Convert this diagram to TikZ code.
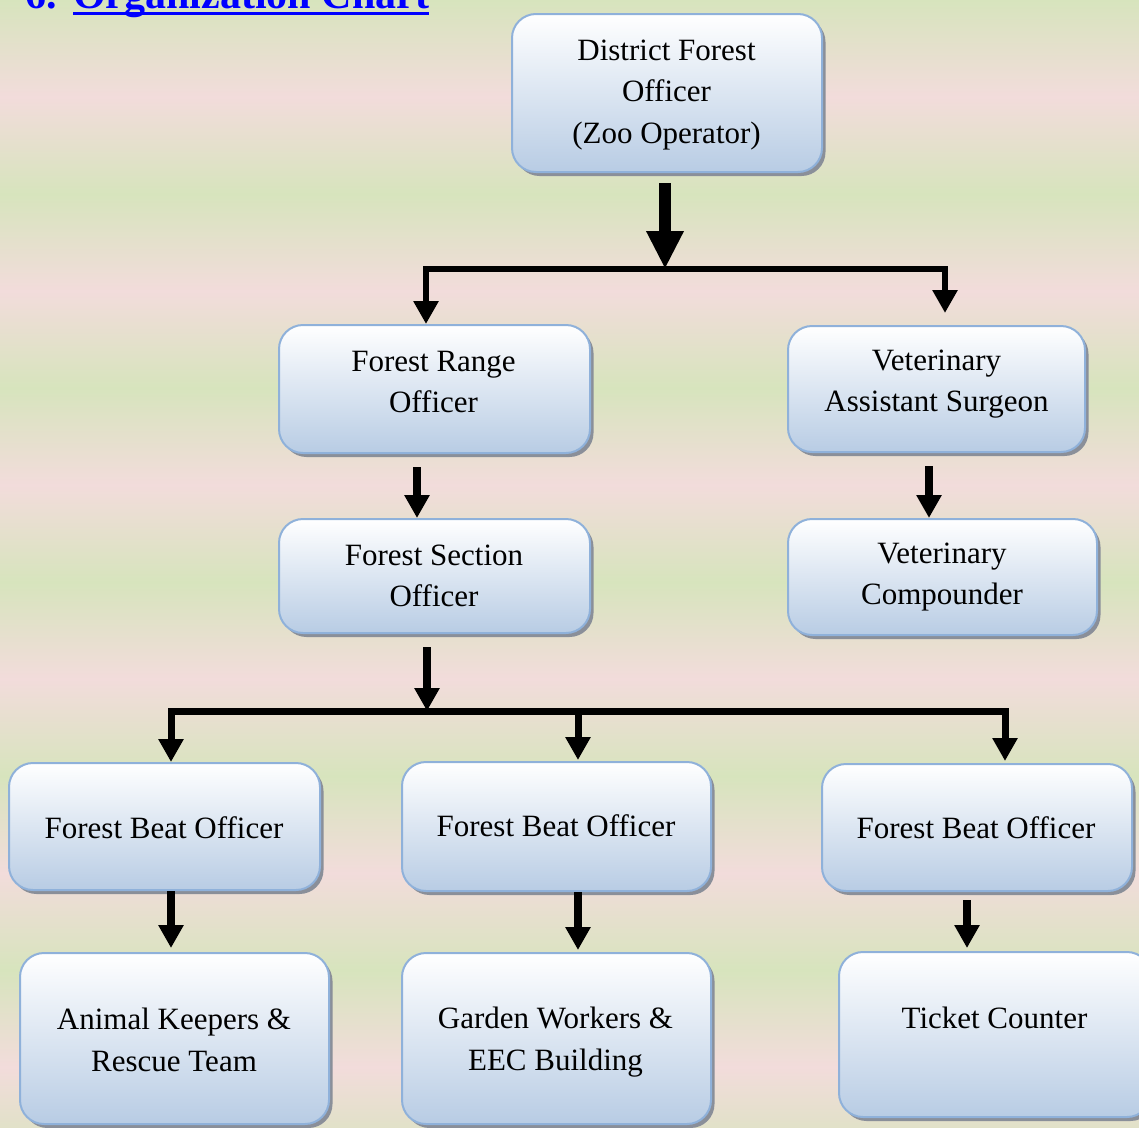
\documentclass[tikz,border=0pt]{standalone}
\usepackage{fontspec}
\setmainfont{Liberation Serif}
\newfontfamily\titlefont{Liberation Serif}
\usetikzlibrary{arrows.meta,shadows}
\definecolor{bggreen}{HTML}{D7E4BD}
\definecolor{bgpink}{HTML}{F2DCDB}
\definecolor{boxline}{HTML}{8FB1DA}
\definecolor{boxbot}{HTML}{B8CCE4}
\definecolor{shadowc}{HTML}{8A8F99}
\definecolor{titleblue}{HTML}{0000FF}
\begin{document}
\begin{tikzpicture}[x=1pt,y=-1pt,
  box/.style={draw=boxline, line width=2pt, rounded corners=24pt,
    top color=white, bottom color=boxbot,
    drop shadow={shadow xshift=3.5pt, shadow yshift=-4pt, fill=shadowc, opacity=1},
    inner sep=0pt},
  txt/.style={font=\fontsize{31}{41.5}\selectfont, align=center, inner sep=0pt, text=black},
  conn/.style={line width=8pt, -{Triangle[width=24pt,length=23pt]}},
  bigconn/.style={line width=12pt, -{Triangle[width=35pt,length=38pt]}},
  busline/.style={line width=6pt, line join=miter, {Triangle[width=24pt,length=23pt]}-{Triangle[width=24pt,length=23pt]}},
  ttl/.style={font=\titlefont\fontsize{42}{46}\selectfont\bfseries, text=titleblue, inner sep=0pt}
]
\useasboundingbox (0,0) rectangle (1139,1127);
\clip (0,0) rectangle (1139,1127);
% background stripes
\foreach \k in {0,...,5}{
  \shade[top color=bggreen, bottom color=bgpink] (0,{194*\k}) rectangle (1139,{194*\k+97});
  \shade[top color=bgpink, bottom color=bggreen] (0,{194*\k+97}) rectangle (1139,{194*\k+194});
}
% title
\node[ttl, anchor=base west] (num) at (25,9) {6.};
\node[ttl, anchor=base west] (title) at (73,9) {Organization Chart};
\draw[titleblue, line width=3pt] ([yshift=-4.5pt]title.base west) -- ([yshift=-4.5pt]title.base east);

% boxes
\node[box, minimum width=310pt, minimum height=158pt] (dfo) at (667,93) {};
\node[box, minimum width=311pt, minimum height=128pt] (fro) at (434.5,389) {};
\node[box, minimum width=297pt, minimum height=126pt] (vas) at (936.5,389) {};
\node[box, minimum width=311pt, minimum height=114pt] (fso) at (434.5,576) {};
\node[box, minimum width=309pt, minimum height=116pt] (vc) at (942.5,577) {};
\node[box, minimum width=311pt, minimum height=127pt] (fbo1) at (164.5,826.5) {};
\node[box, minimum width=309pt, minimum height=129pt] (fbo2) at (556.5,826.5) {};
\node[box, minimum width=310pt, minimum height=127pt] (fbo3) at (977,827.5) {};
\node[box, minimum width=309pt, minimum height=171pt] (ak) at (174.5,1038.5) {};
\node[box, minimum width=309pt, minimum height=171pt] (gw) at (556.5,1038.5) {};
\node[box, minimum width=312pt, minimum height=165pt] (tc) at (995,1034.5) {};

% texts
\node[txt] (dfot) at (666.5,95) {District Forest\\Officer\\(Zoo Operator)};
\node[txt] (frot) at (433.5,382) {Forest Range\\Officer};
\node[txt] (vast) at (936.5,384) {Veterinary\\Assistant Surgeon};
\node[txt] (fsot) at (434,576) {Forest Section\\Officer};
\node[txt] (vct) at (942,577) {Veterinary\\Compounder};
\node[txt] (fbo1t) at (164,828) {Forest Beat Officer};
\node[txt] (fbo2t) at (556,826) {Forest Beat Officer};
\node[txt] (fbo3t) at (976,828) {Forest Beat Officer};
\node[txt] (akt) at (174,1040) {Animal Keepers \&\\Rescue Team};
\node[txt] (gwt) at (555.5,1042) {Garden Workers \&\\EEC Building};
\node[txt] (tct) at (994.5,1018) {Ticket Counter};

% junction coordinates
\coordinate (j1) at (665,269);
\coordinate (b1l) at (426,269);
\coordinate (b1r) at (945,269);
\coordinate (j2) at (427,711);
\coordinate (b2l) at (171,711);
\coordinate (b2m) at (578,711);
\coordinate (b2r) at (1005,711);

% connectors
\draw[bigconn, shorten <=10pt] (j1 |- dfo.south) -- (j1);
\draw[busline] (b1l |- fro.north) -- (b1l) -- (b1r) -- ([yshift=12pt]b1r |- vas.north);
\draw[conn, shorten <=13pt] (417,0 |- fro.south) -- (417,0 |- fso.north);
\draw[conn, shorten <=13pt] (929,0 |- vas.south) -- (929,0 |- vc.north);
\draw[conn, shorten <=13pt] (j2 |- fso.south) -- (j2);
\draw[busline, line width=7pt] (b2l |- fbo1.north) -- (b2l) -- (b2r) -- ([yshift=2pt]b2r |- fbo3.north);
\draw[conn, line width=7pt] (b2m) -- ([yshift=1pt]b2m |- fbo2.north);
\draw[conn] (171,0 |- fbo1.south) -- ([yshift=4pt]171,0 |- ak.north);
\draw[conn] (578,0 |- fbo2.south) -- ([yshift=2pt]578,0 |- gw.north);
\draw[conn, shorten <=8pt] (967,0 |- fbo3.south) -- ([yshift=3pt]967,0 |- tc.north);
\end{tikzpicture}
\end{document}
